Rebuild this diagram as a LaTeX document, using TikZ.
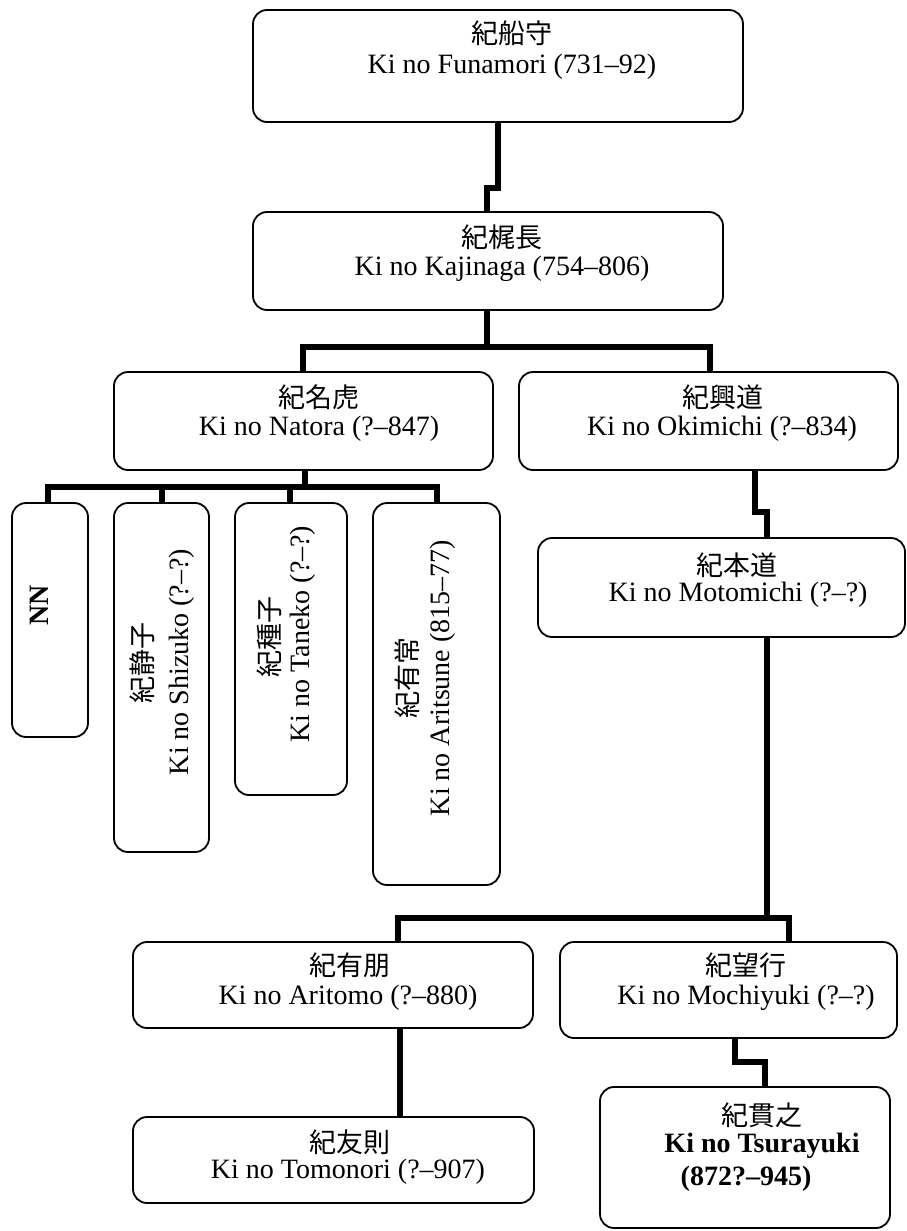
\documentclass[tikz,border=0pt]{standalone}
\usepackage{fontspec}
\setmainfont{Liberation Serif}
\newfontfamily\jpfont{Noto Sans CJK JP}
\begin{document}
\begin{tikzpicture}[x=1pt,y=-1pt,
  box/.style={draw, line width=1.8pt, rounded corners=14pt, inner sep=0pt},
  conn/.style={line width=6pt},
  en/.style={font=\fontsize{28}{32}\selectfont, inner sep=0pt, anchor=base},
  enb/.style={font=\bfseries\fontsize{28}{32}\selectfont, inner sep=0pt, anchor=base},
  jpt/.style={font=\jpfont\fontsize{27}{32}\selectfont, inner sep=0pt, anchor=base}]
\useasboundingbox (0,0) rectangle (907,1231);

% boxes
\node[box, minimum width=490pt, minimum height=112pt] (b1) at (498,66) {};
\node[box, minimum width=470pt, minimum height=98pt] (b2) at (488,261) {};
\node[box, minimum width=379pt, minimum height=98pt] (b3) at (303.5,421) {};
\node[box, minimum width=379pt, minimum height=98pt] (b4) at (708.5,421) {};
\node[box, minimum width=367pt, minimum height=99pt] (b5) at (721.5,587.5) {};
\node[box, minimum width=76pt, minimum height=234pt] (nn) at (50,620) {};
\node[box, minimum width=95pt, minimum height=349pt] (sh) at (161.5,677.5) {};
\node[box, minimum width=112pt, minimum height=292pt] (ta) at (291,649) {};
\node[box, minimum width=127pt, minimum height=382pt] (ar) at (436.5,694) {};
\node[box, minimum width=400pt, minimum height=86pt] (am) at (333,985) {};
\node[box, minimum width=337pt, minimum height=96pt] (mo) at (728.5,990) {};
\node[box, minimum width=401pt, minimum height=86pt] (tm) at (333.5,1160) {};
\node[box, minimum width=290pt, minimum height=141pt] (ts) at (745,1157.5) {};

% texts
\node[jpt] (t1j) at (512,44) {紀船守};
\node[en]  (t1e) at (512,74) {Ki no Funamori (731–92)};
\node[jpt] (t2j) at (502,247) {紀梶長};
\node[en]  (t2e) at (502,275) {Ki no Kajinaga (754–806)};
\node[jpt] (t3j) at (319,407) {紀名虎};
\node[en]  (t3e) at (319,435) {Ki no Natora (?–847)};
\node[jpt] (t4j) at (723,407) {紀興道};
\node[en]  (t4e) at (722,435) {Ki no Okimichi (?–834)};
\node[jpt] (t5j) at (737,575) {紀本道};
\node[en]  (t5e) at (738,601) {Ki no Motomichi (?–?)};
\node[jpt] (t6j) at (350,975) {紀有朋};
\node[en]  (t6e) at (348,1004) {Ki no Aritomo (?–880)};
\node[jpt] (t7j) at (746,975) {紀望行};
\node[en]  (t7e) at (746,1004) {Ki no Mochiyuki (?–?)};
\node[jpt] (t8j) at (350,1152) {紀友則};
\node[en]  (t8e) at (348,1178) {Ki no Tomonori (?–907)};
\node[jpt] (t9j) at (762,1125) {紀貫之};
\node[enb] (t9e) at (762,1152) {Ki no Tsurayuki};
\node[enb] (t9d) at (746,1185) {(872?–945)};

\node[enb, rotate=90] (tnn) at (48,605) {NN};
\node[jpt, rotate=90] (tshj) at (152,663) {紀静子};
\node[en, rotate=90]  (tshe) at (188,662) {Ki no Shizuko (?–?)};
\node[jpt, rotate=90] (taj) at (279,637) {紀種子};
\node[en, rotate=90]  (tae) at (309,634) {Ki no Taneko (?–?)};
\node[jpt, rotate=90] (tarj) at (417,678) {紀有常};
\node[en, rotate=90]  (tare) at (449,678) {Ki no Aritsune (815–77)};

% connector coordinates
\coordinate (k1) at (498,188);
\coordinate (k2) at (487,188);
\coordinate (k3) at (487,347);
\coordinate (k4) at (303,347);
\coordinate (k5) at (710,347);
\coordinate (k6) at (305,487);
\coordinate (k7) at (48,487);
\coordinate (k8) at (162,487);
\coordinate (k9) at (290,487);
\coordinate (k10) at (437,487);
\coordinate (k11) at (755,512);
\coordinate (k12) at (767,512);
\coordinate (k13) at (767,918);
\coordinate (k14) at (398,918);
\coordinate (k15) at (789,918);
\coordinate (k16) at (400,1070);
\coordinate (k17) at (735,1062);
\coordinate (k18) at (765,1062);

% connectors
\draw[conn] (b1.south -| k1) -- (k1) -- (k2) -- (b2.north -| k2);
\draw[conn] (b2.south -| k3) -- (k3);
\draw[conn] (b3.north -| k4) -- (k4) -- (k5) -- (b4.north -| k5);
\draw[conn] (b3.south -| k6) -- (k6);
\draw[conn] (nn.north -| k7) -- (k7) -- (k10) -- (ar.north -| k10);
\draw[conn] (k8) -- (sh.north -| k8);
\draw[conn] (k9) -- (ta.north -| k9);
\draw[conn] (b4.south -| k11) -- (k11) -- (k12) -- (b5.north -| k12);
\draw[conn] (b5.south -| k13) -- (k13);
\draw[conn] (am.north -| k14) -- (k14) -- (k15) -- (mo.north -| k15);
\draw[conn] (am.south -| k16) -- (tm.north -| k16);
\draw[conn] (mo.south -| k17) -- (k17) -- (k18) -- (ts.north -| k18);
\end{tikzpicture}
\end{document}
